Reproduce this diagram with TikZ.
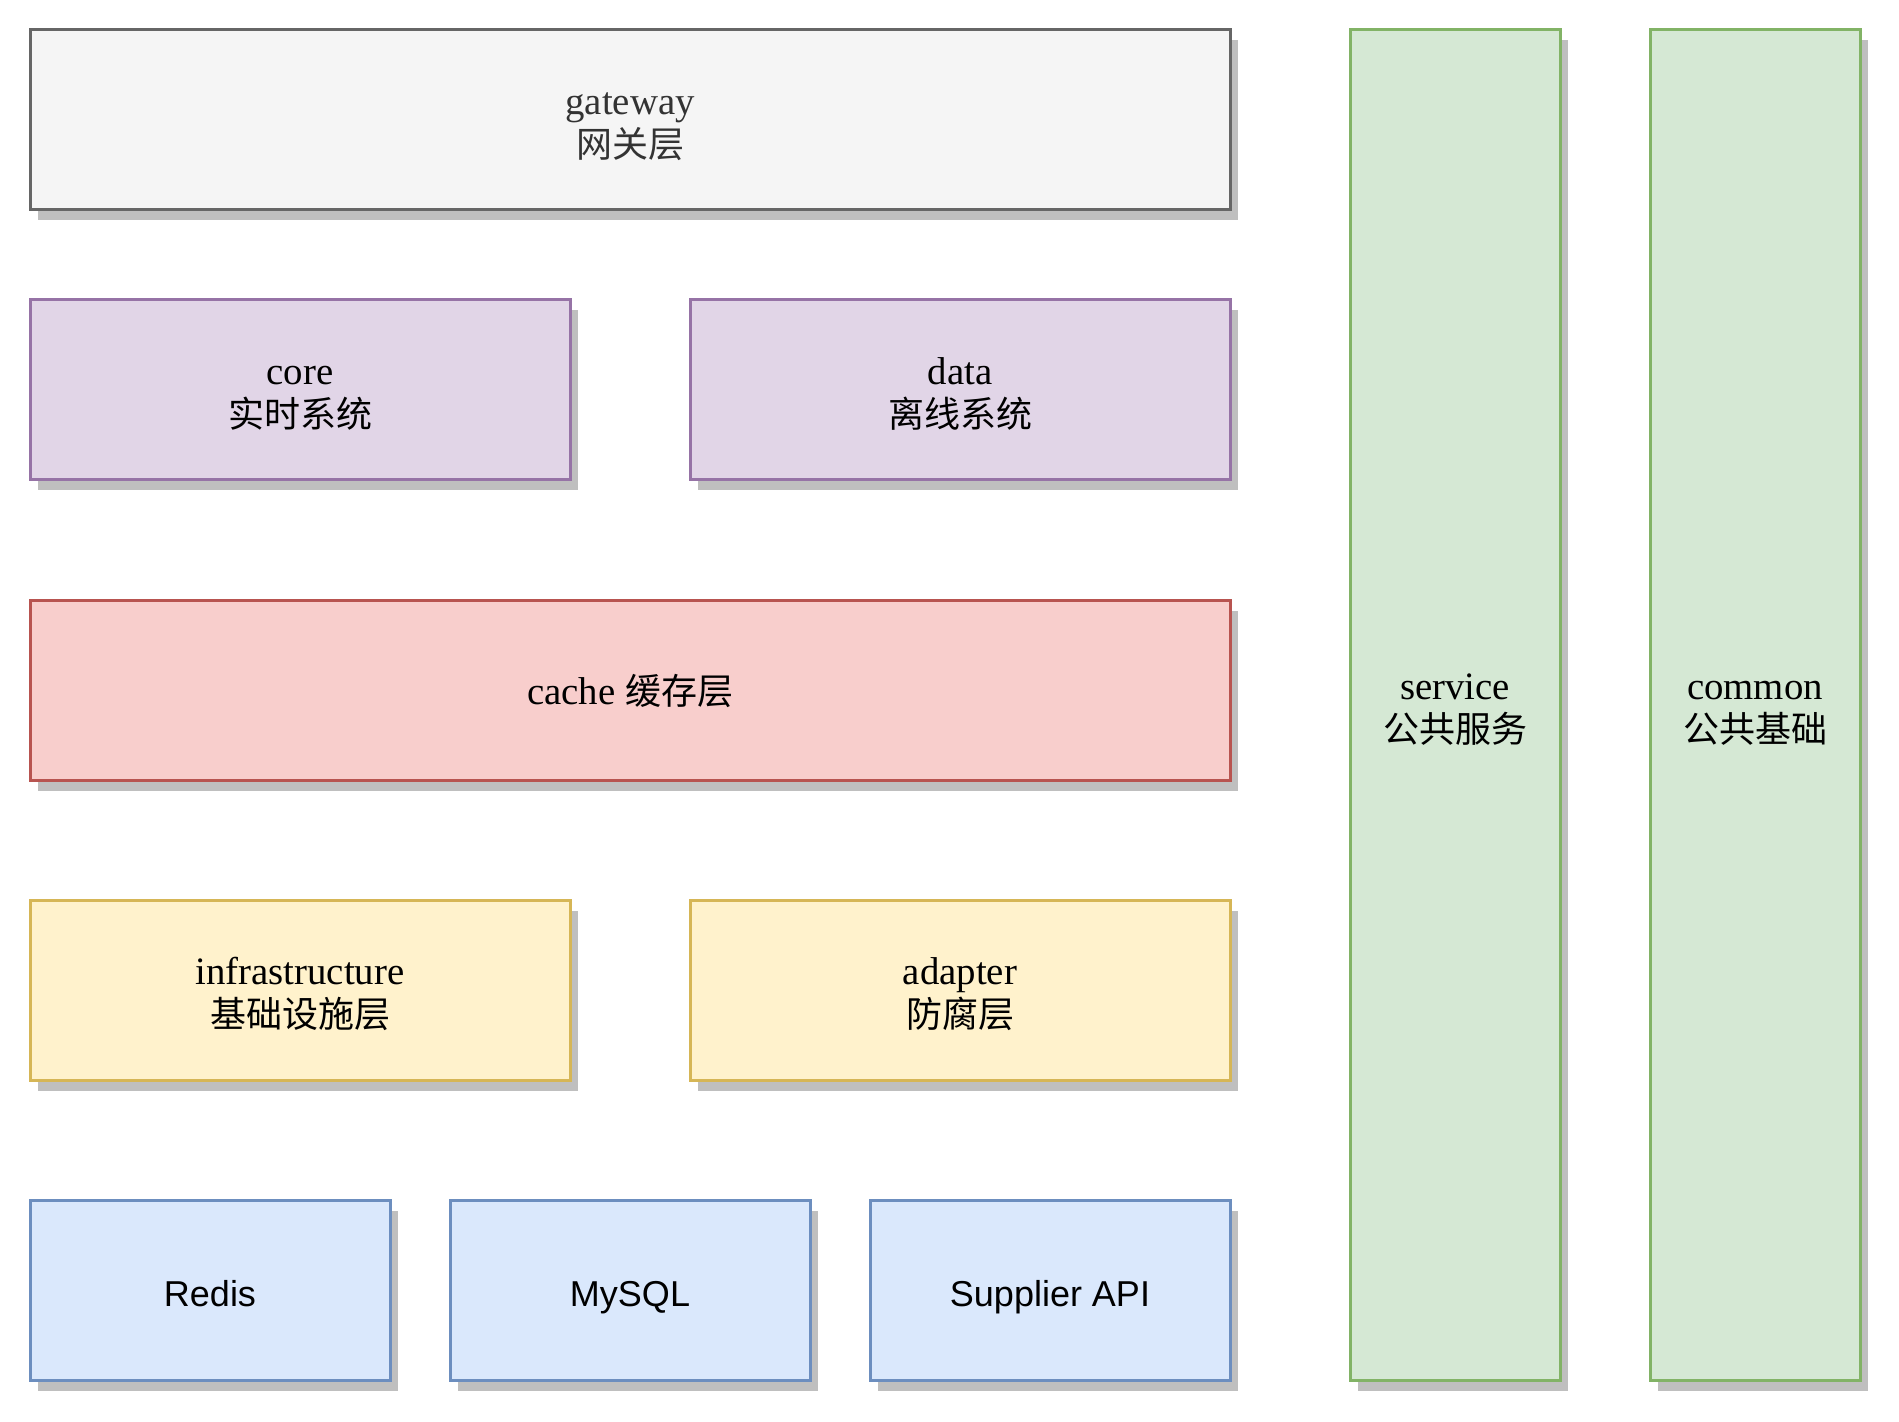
\documentclass[tikz,border=0pt]{standalone}
\usepackage{fontspec}
\usepackage{tikz}
\usepackage{xcolor}
\usetikzlibrary{shapes,positioning,shadows}
\setmainfont{Liberation Serif}
\newfontfamily\cjk{Noto Sans CJK SC}
\newfontfamily\plainsans{Liberation Sans}
\newcommand{\zh}[1]{{\cjk\fontsize{18}{21.6}\selectfont #1}}
\newcommand{\duo}[2]{\rule{0pt}{20pt}#1\\\zh{#2}\rule[-4pt]{0pt}{4pt}}
\definecolor{grayfill}{HTML}{F5F5F5}
\definecolor{grayline}{HTML}{666666}
\definecolor{graytext}{HTML}{333333}
\definecolor{purplefill}{HTML}{E1D5E7}
\definecolor{purpleline}{HTML}{9673A6}
\definecolor{redfill}{HTML}{F8CECC}
\definecolor{redline}{HTML}{B85450}
\definecolor{yellowfill}{HTML}{FFF2CC}
\definecolor{yellowline}{HTML}{D6B656}
\definecolor{bluefill}{HTML}{DAE8FC}
\definecolor{blueline}{HTML}{6C8EBF}
\definecolor{greenfill}{HTML}{D5E8D4}
\definecolor{greenline}{HTML}{82B366}
\definecolor{shadowgray}{HTML}{BFBFBF}
\tikzstyle{layer} = [
    rectangle,
    line width=1.5pt,
    inner sep=0pt,
    align=center,
    text centered,
    font=\fontsize{19.4}{21.6}\selectfont,
    drop shadow={shadow xshift=3.75pt,shadow yshift=-5.25pt,fill=shadowgray,opacity=1}
]
\tikzstyle{wide} = [layer, minimum width=600pt, minimum height=90pt]
\tikzstyle{half} = [layer, minimum width=270pt, minimum height=90pt]
\tikzstyle{third} = [layer, minimum width=180pt, minimum height=90pt,
    text height=18pt, text depth=2pt,
    font=\plainsans\fontsize{18}{21.6}\selectfont]
\tikzstyle{pillar} = [layer, minimum width=105pt, minimum height=675pt,
    draw=greenline, fill=greenfill]

\begin{document}
\begin{tikzpicture}[x=0.75pt,y=-0.75pt]
        \useasboundingbox (0,0) rectangle (1266,948);
        % Layers
        \node[wide, draw=grayline, fill=grayfill, text=graytext] (gateway) at (420,80) {\duo{gateway}{网关层}};
        \node[half, draw=purpleline, fill=purplefill] (core) at (200,260) {\duo{core}{实时系统}};
        \node[half, draw=purpleline, fill=purplefill] (data) at (640,260) {\duo{data}{离线系统}};
        \node[wide, draw=redline, fill=redfill] (cache) at (420,460) {\rule{0pt}{18pt}cache \zh{缓存层}\rule[-4pt]{0pt}{4pt}};
        \node[half, draw=yellowline, fill=yellowfill] (infra) at (200,660) {\duo{infrastructure}{基础设施层}};
        \node[half, draw=yellowline, fill=yellowfill] (adapter) at (640,660) {\duo{adapter}{防腐层}};
        
        % Storage
        \node[third, draw=blueline, fill=bluefill] (redis) at (140,860) {Redis};
        \node[third, draw=blueline, fill=bluefill] (mysql) at (420,860) {MySQL};
        \node[third, draw=blueline, fill=bluefill] (supplier) at (700,860) {Supplier API};
        
        % Shared modules
        \node[pillar] (service) at (970,470) {\duo{service}{公共服务}};
        \node[pillar] (common) at (1170,470) {\duo{common}{公共基础}};
    \end{tikzpicture}
\end{document}
